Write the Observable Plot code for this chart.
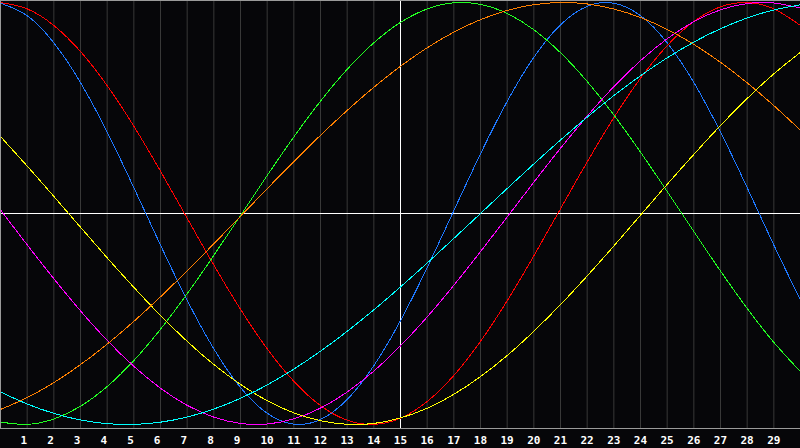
<!DOCTYPE html>
<html>
<head>
<meta charset="utf-8">
<script src="https://cdn.jsdelivr.net/npm/d3@7"></script>
<script src="https://cdn.jsdelivr.net/npm/@observablehq/plot@0.6"></script>
<style>
  html, body { margin: 0; padding: 0; background: #060609; }
  #chart svg { display: block; }
</style>
</head>
<body>
<div id="chart"></div>
<script>
// days 0..30 (x positions of samples)
const days = d3.range(0, 31);
// tick labels 1..29
const tickDays = d3.range(1, 30);

const seriesNames = ["cycle23", "cycle28", "cycle33", "cycle38", "cycle43", "cycle48", "cycle53"];
const seriesColors = ["#1e78ff", "#ff0000", "#22ff22", "#ff00ff", "#ffff00", "#ff8000", "#00ffff"];

const cycle23 = [0.9966, 0.9376, 0.8090, 0.6206, 0.3859, 0.1226, -0.1497, -0.4109, -0.6414, -0.8248, -0.9467,
  -0.9985, -0.9762, -0.8815, -0.7215, -0.5078, -0.2566, 0.0136, 0.2829, 0.5313, 0.7400,
  0.8941, 0.9818, 0.9966, 0.9376, 0.8090, 0.6206, 0.3859, 0.1226, -0.1497, -0.4109];
const cycle28 = [0.9997, 0.9697, 0.8910, 0.7678, 0.6058, 0.4136, 0.2006, -0.0224, -0.2443, -0.4540, -0.6409,
  -0.7953, -0.9105, -0.9797, -0.9997, -0.9697, -0.8910, -0.7678, -0.6058, -0.4136, -0.2006,
  0.0224, 0.2443, 0.4540, 0.6409, 0.7953, 0.9105, 0.9797, 0.9997, 0.9697, 0.8910];
const cycle33 = [-0.9884, -0.9993, -0.9740, -0.9135, -0.8200, -0.6970, -0.5486, -0.3804, -0.1985, -0.0096, 0.1799,
  0.3628, 0.5326, 0.6833, 0.8090, 0.9056, 0.9695, 0.9984, 0.9911, 0.9480, 0.8708,
  0.7620, 0.6256, 0.4667, 0.2908, 0.1045, -0.0856, -0.2726, -0.4498, -0.6107, -0.7495];
const cycle38 = [0.0166, -0.1483, -0.3090, -0.4614, -0.6013, -0.7242, -0.8280, -0.9091, -0.9652, -0.9951, -0.9978,
  -0.9733, -0.9222, -0.8461, -0.7469, -0.6272, -0.4904, -0.3402, -0.1808, -0.0166, 0.1483,
  0.3090, 0.4614, 0.6013, 0.7242, 0.8280, 0.9091, 0.9652, 0.9951, 0.9978, 0.9733];
const cycle43 = [0.3650, 0.2250, 0.0810, -0.0650, -0.2100, -0.3500, -0.4830, -0.6060, -0.7160, -0.8100, -0.8870,
  -0.9450, -0.9820, -0.9990, -0.9950, -0.9690, -0.9230, -0.8570, -0.7730, -0.6730, -0.5580,
  -0.4320, -0.2960, -0.1540, -0.0080, 0.1380, 0.2800, 0.4170, 0.5450, 0.6620, 0.7640];
const cycle48 = [-0.9288, -0.8725, -0.8014, -0.7163, -0.6191, -0.5113, -0.3947, -0.2714, -0.1435, -0.0131, 0.1175,
  0.2462, 0.3706, 0.4886, 0.5983, 0.6978, 0.7853, 0.8594, 0.9188, 0.9625, 0.9897,
  0.9999, 0.9931, 0.9692, 0.9288, 0.8725, 0.8014, 0.7163, 0.6191, 0.5113, 0.3947];
const cycle53 = [-0.8457, -0.9028, -0.9473, -0.9786, -0.9961, -0.9996, -0.9890, -0.9646, -0.9267, -0.8758, -0.8125,
  -0.7376, -0.6525, -0.5585, -0.4566, -0.3481, -0.2348, -0.1182, 0.0000, 0.1184, 0.2350,
  0.3482, 0.4567, 0.5587, 0.6529, 0.7378, 0.8125, 0.8758, 0.9267, 0.9647, 0.9890];

const seriesValues = [cycle23, cycle28, cycle33, cycle38, cycle43, cycle48, cycle53];

const rows = [];
seriesNames.forEach((name, i) => {
  seriesValues[i].forEach((v, j) => rows.push({series: name, day: days[j], value: v}));
});

const chart = Plot.plot({
  width: 800,
  height: 448,
  marginTop: 0,
  marginLeft: 0,
  marginRight: 0,
  marginBottom: 20,
  style: {background: "#060609", color: "white", fontFamily: "'DejaVu Sans Mono', monospace"},
  x: {domain: [0, 30], axis: null},
  y: {domain: [-1, 1], axis: null, insetTop: 2, insetBottom: 4},
  color: {type: "ordinal", domain: seriesNames, range: seriesColors},
  marks: [
    Plot.ruleX(tickDays, {stroke: "#383838", strokeWidth: 1}),
    Plot.ruleY([0], {stroke: "white", strokeWidth: 1}),
    Plot.ruleX([15], {stroke: "white", strokeWidth: 1}),
    Plot.line(rows, {x: "day", y: "value", z: "series", stroke: "series", strokeWidth: 1, curve: "natural", shapeRendering: "crispEdges"}),
    Plot.frame({stroke: "#9a9a9a"}),
    Plot.axisX({
      ticks: tickDays,
      tickSize: 0,
      tickPadding: 8,
      tickFormat: d => String(d),
      fill: "white",
      fontWeight: "bold",
      fontSize: 11,
      textAnchor: "start",
      dx: -6.7,
      label: null
    })
  ]
});
document.getElementById("chart").appendChild(chart);
</script>
</body>
</html>
